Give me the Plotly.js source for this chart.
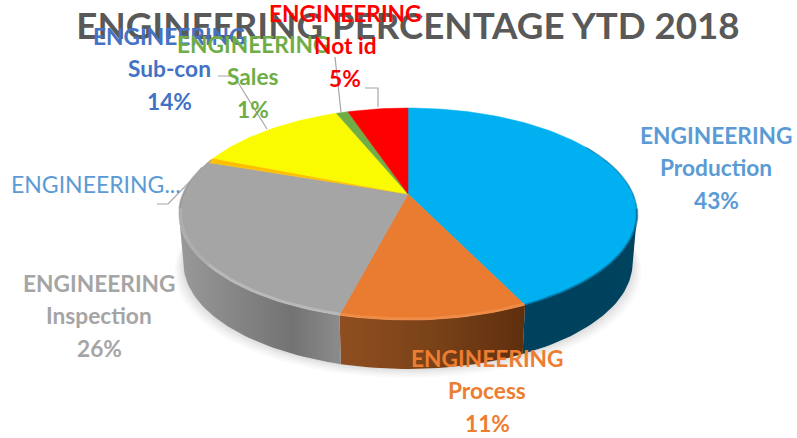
<!DOCTYPE html>
<html>
<head>
<meta charset="utf-8">
<script src="https://cdn.plot.ly/plotly-3.0.1.min.js"></script>
<style>html,body{margin:0;padding:0;background:#fff;overflow:hidden}#chart{width:797px;height:438px}</style>
</head>
<body>
<div id="chart"></div>
<script>
// ----- data -----
const categories = ["Production", "Process", "Inspection", "ENGINEERING...", "Sub-con", "Sales", "Not id"];
const sliceShares = [42.9, 11.1, 26.3, 0.8, 12.8, 1.0, 5.1];
const percentLabels = ["43%", "11%", "26%", "", "14%", "1%", "5%"];
const headLabel = "ENGINEERING";
const titleText = "ENGINEERING PERCENTAGE YTD 2018";

// ----- styles -----
const sliceColors = ["#00B0F0", "#E97C30", "#A5A5A5", "#FFC000", "#FAFA00", "#70AD47", "#FF0000"];
const labelColors = ["#5B9BD5", "#ED7D31", "#A5A5A5", "#5B9BD5", "#4472C4", "#70AD47", "#FF0000"];
const FONT = "Lato, Carlito, Calibri, sans-serif";

// ----- projected disc -----
const CX = 408, CY = 194, A = 225, B = 102.2, K = 0.1887, DEPTH = 49, SHRINK = 0.98;
const rad = d => d * Math.PI / 180;
function topPt(th) {
  const u = Math.sin(rad(th)), v = Math.cos(rad(th)), d = 1 + K * v;
  return [CX + A * u / d, CY - B * v / d];
}
function bottomPt(th) {
  const p = topPt(th);
  return [CX + (p[0] - CX) * SHRINK, p[1] + DEPTH];
}
function arc(fn, a0, a1, step) {
  const n = Math.max(2, Math.ceil(Math.abs(a1 - a0) / (step || 1.5)));
  const out = [];
  for (let i = 0; i <= n; i++) out.push(fn(a0 + (a1 - a0) * i / n));
  return out;
}
const xs = pts => pts.map(p => p[0]);
const ys = pts => pts.map(p => p[1]);

const total = sliceShares.reduce((a, b) => a + b, 0);
const edges = [0];
sliceShares.forEach(v => edges.push(edges[edges.length - 1] + v / total * 360));

const traces = [];
function base(extra) {
  return Object.assign({type: "scatter", mode: "lines", hoverinfo: "skip", showlegend: false, xaxis: "x", yaxis: "y"}, extra);
}

// soft shadow under the disc
[[9, 0.018], [7, 0.022], [5, 0.026], [3, 0.03], [1, 0.035]].forEach(s => {
  const pts = arc(th => {
    const p = bottomPt(th);
    return [CX + (p[0] - CX) * (1 + s[0] / 225), p[1] + s[0]];
  }, 60, 300);
  traces.push(base({x: xs(pts), y: ys(pts), fill: "toself", fillcolor: "rgba(0,0,0," + s[1] + ")", line: {width: 0}}));
});

// side wall, only the part that faces the viewer
const RIGHT = 180 - (Math.acos(K) * 180 / Math.PI);
const LEFT = 360 - RIGHT;
const sideStyles = [
  {scale: [[0, "#00425E"], [1, "#00435F"]]},
  {scale: [[0, "#8F4E20"], [0.5, "#7A4218"], [1, "#5E2F0E"]]},
  {scale: [[0, "#9A9A9A"], [0.3, "#888888"], [0.7, "#737373"], [1, "#8C8C8C"]]}
];
[0, 1, 2].forEach(i => {
  const a0 = Math.max(edges[i], RIGHT), a1 = Math.min(edges[i + 1], LEFT);
  const t = arc(topPt, a0, a1), b = arc(bottomPt, a1, a0);
  const pts = t.concat(b, [t[0]]);
  const X = xs(pts), Y = ys(pts);
  traces.push(base({
    x: X, y: Y, fill: "toself", line: {width: 0},
    fillcolor: sideStyles[i].scale[0][1],
    fillgradient: {type: "horizontal", colorscale: sideStyles[i].scale,
                   start: Math.min.apply(null, X), stop: Math.max.apply(null, X)}
  }));
});

// top faces
sliceShares.forEach((v, i) => {
  const pts = [[CX, CY]].concat(arc(topPt, edges[i], edges[i + 1]), [[CX, CY]]);
  traces.push(base({x: xs(pts), y: ys(pts), fill: "toself", fillcolor: sliceColors[i],
                    line: {width: 0.5, color: sliceColors[i]}}));
});

// bevel: light rim on front-left, dark rim on the blue edge
function rim(a0, a1, color, width, inset) {
  const pts = arc(th => {
    const p = topPt(th);
    return [CX + (p[0] - CX) * (1 - inset), CY + (p[1] - CY) * (1 - inset)];
  }, a0, a1);
  traces.push(base({x: xs(pts), y: ys(pts), line: {color: color, width: width}}));
}
rim(edges[1], edges[2], "rgba(255,170,110,0.35)", 3, 0.008);
rim(edges[2], 232, "rgba(255,255,255,0.22)", 3, 0.008);
rim(232, 262, "rgba(255,255,255,0.10)", 3, 0.008);
rim(262, 286, "rgba(120,120,120,0.35)", 2, 0.0);
rim(60, 98, "rgba(0,60,90,0.30)", 1.5, 0.0);
rim(98, edges[1], "rgba(0,70,100,0.55)", 2.5, 0.0);

// leader lines
const leaderX = [[365, 378, 378], [335, 341], [218, 234, 267], [157, 168, 211]];
const leaderY = [[88, 88, 107], [57, 112], [76, 76, 129], [204, 204, 160]];
leaderX.forEach((lx, i) => {
  traces.push(base({x: lx, y: leaderY[i], line: {color: "#A6A6A6", width: 1.2}}));
});

// labels, one annotation per line to keep the 32px leading
const labelCentre = [[716, 135], [487, 358], [99, 283], [96, 184], [169, 36], [253, 44], [345, 13]];
const LEAD = 32.5;
const annotations = [];
categories.forEach((c, i) => {
  const col = labelColors[i], cx = labelCentre[i][0], y0 = labelCentre[i][1];
  const add = (txt, y, bold) => annotations.push({
    text: bold ? "<b>" + txt + "</b>" : txt, x: cx, y: y, xref: "x", yref: "y",
    showarrow: false, xanchor: "center", yanchor: "middle",
    font: {family: FONT, size: bold ? 22.7 : 23, color: col}
  });
  if (!percentLabels[i]) { add(c, y0, false); return; }
  add(headLabel, y0, true);
  add(c, y0 + LEAD, true);
  add(percentLabels[i], y0 + 2 * LEAD, true);
});

const layout = {
  width: 797, height: 438, paper_bgcolor: "#fff", plot_bgcolor: "#fff",
  margin: {l: 0, r: 0, t: 0, b: 0}, showlegend: false, hovermode: false,
  title: {text: "<b>" + titleText + "</b>", x: 408 / 797, xanchor: "center", y: 1 - 26 / 438, yanchor: "middle",
          font: {family: FONT, size: 36.7, color: "#595959"}},
  xaxis: {range: [0, 797], visible: false, fixedrange: true},
  yaxis: {range: [438, 0], visible: false, fixedrange: true},
  annotations: annotations
};
Plotly.newPlot("chart", traces, layout, {displayModeBar: false, staticPlot: true});
</script>
</body>
</html>
